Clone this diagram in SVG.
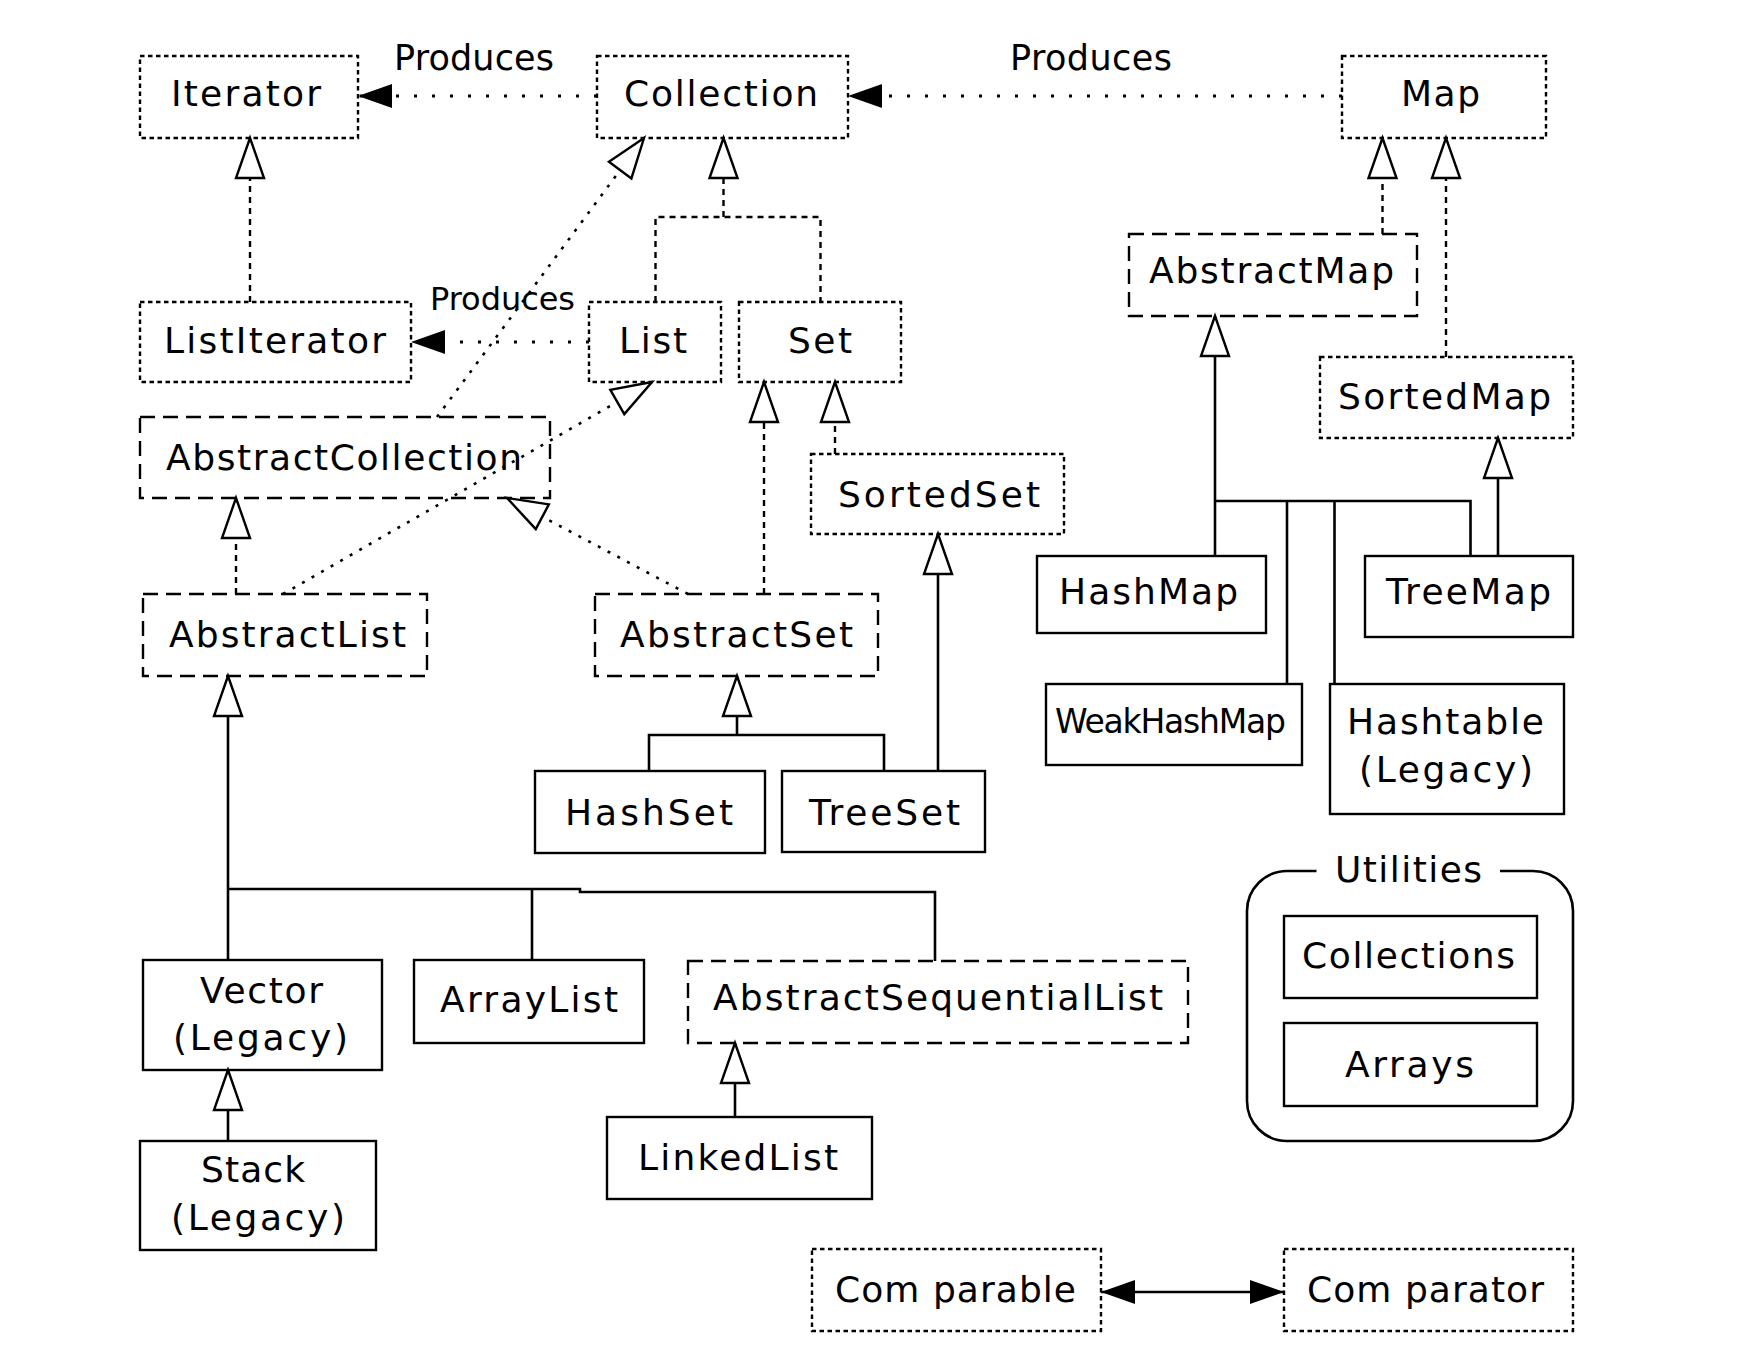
<svg xmlns="http://www.w3.org/2000/svg" width="1744" height="1366" viewBox="0 0 1744 1366">
  <style>
    .bg { fill: #ffffff; }
    .box { fill: none; stroke: #000; stroke-width: 2.4; }
    .dot { stroke-dasharray: 4.5 3.5; }
    .dash { stroke-dasharray: 15 8; }
    .solid { stroke: #000; stroke-width: 2.6; fill: none; }
    .impl { stroke: #000; stroke-width: 2.4; fill: none; stroke-dasharray: 6 5; }
    .impld { stroke: #000; stroke-width: 2.6; fill: none; stroke-dasharray: 3 8; }
    .prod { stroke: #000; stroke-width: 3; fill: none; stroke-dasharray: 3 15; }
    text { font-family: "DejaVu Sans", "Liberation Sans", sans-serif; font-size: 36px; fill: #000; }
    .lbl { font-size: 35px; }
    .sm { font-size: 32px; }
    .wk { font-size: 33px; }
  </style>
  <defs>
    <marker id="hollow" markerUnits="userSpaceOnUse" viewBox="-44 -18 48 36" refX="0" refY="0" markerWidth="48" markerHeight="36" orient="auto" overflow="visible">
      <path d="M0,0 L-40,-14 L-40,14 Z" fill="#fff" stroke="#000" stroke-width="2.4"/>
    </marker>
    <marker id="filled" markerUnits="userSpaceOnUse" viewBox="-38 -14 40 28" refX="0" refY="0" markerWidth="40" markerHeight="28" orient="auto-start-reverse" overflow="visible">
      <path d="M0,0 L-34,-12 L-34,12 Z" fill="#000"/>
    </marker>
  </defs>

  <rect class="bg" x="0" y="0" width="1744" height="1366"/>

  <!-- connectors -->
  <g id="connectors">
    <!-- produces relations -->
    <line class="prod" x1="597" y1="96" x2="358" y2="96" marker-end="url(#filled)"/>
    <line class="prod" x1="1342" y1="96" x2="848" y2="96" marker-end="url(#filled)"/>
    <line class="prod" x1="589" y1="342" x2="411" y2="342" marker-end="url(#filled)"/>
    <line class="solid" x1="1101" y1="1292" x2="1284" y2="1292" marker-start="url(#filled)" marker-end="url(#filled)"/>

    <!-- interface inheritance -->
    <line class="impl" x1="250" y1="302" x2="250" y2="138" marker-end="url(#hollow)"/>
    <path class="impl" d="M655.5,302 V217 H820.5 V302"/>
    <line class="impl" x1="723.5" y1="217" x2="723.5" y2="138" marker-end="url(#hollow)"/>
    <line class="impl" x1="1382.5" y1="234" x2="1382.5" y2="138" marker-end="url(#hollow)"/>
    <line class="impl" x1="1446" y1="357" x2="1446" y2="138" marker-end="url(#hollow)"/>
    <line class="impl" x1="835" y1="454" x2="835" y2="382" marker-end="url(#hollow)"/>
    <line class="impl" x1="764" y1="594" x2="764" y2="382" marker-end="url(#hollow)"/>
    <line class="impl" x1="236" y1="594" x2="236" y2="498" marker-end="url(#hollow)"/>

    <!-- skeletal implementations -->
    <line class="impld" x1="437" y1="417" x2="644" y2="138" marker-end="url(#hollow)"/>
    <line class="impld" x1="283" y1="594" x2="652" y2="382" marker-end="url(#hollow)"/>
    <line class="impld" x1="688" y1="594" x2="507" y2="498" marker-end="url(#hollow)"/>

    <!-- concrete classes -->
    <line class="solid" x1="228" y1="960" x2="228" y2="676" marker-end="url(#hollow)"/>
    <path class="solid" d="M228,889 H580 V892 H935 V961"/>
    <line class="solid" x1="532" y1="889" x2="532" y2="960"/>
    <line class="solid" x1="228" y1="1141" x2="228" y2="1070" marker-end="url(#hollow)"/>
    <line class="solid" x1="735" y1="1117" x2="735" y2="1043" marker-end="url(#hollow)"/>

    <line class="solid" x1="737" y1="735" x2="737" y2="676" marker-end="url(#hollow)"/>
    <path class="solid" d="M649,771 V735 H884 V771"/>
    <line class="solid" x1="938" y1="771" x2="938" y2="534" marker-end="url(#hollow)"/>

    <line class="solid" x1="1215" y1="556" x2="1215" y2="316" marker-end="url(#hollow)"/>
    <path class="solid" d="M1215,501 H1470.5 V556"/>
    <line class="solid" x1="1287" y1="501" x2="1287" y2="684"/>
    <line class="solid" x1="1334.5" y1="501" x2="1334.5" y2="684"/>
    <line class="solid" x1="1498" y1="556" x2="1498" y2="438" marker-end="url(#hollow)"/>
  </g>

  <!-- relation labels -->
  <g id="labels">
    <text class="lbl" x="394" y="70" textLength="160" lengthAdjust="spacing">Produces</text>
    <text class="lbl" x="1010" y="70" textLength="162" lengthAdjust="spacing">Produces</text>
    <text class="sm" x="430" y="310" textLength="145" lengthAdjust="spacing">Produces</text>
  </g>

  <!-- interfaces -->
  <g id="Iterator">
    <rect class="box dot" x="140" y="56" width="218" height="82"/>
    <text x="171" y="106" textLength="150" lengthAdjust="spacing">Iterator</text>
  </g>
  <g id="Collection">
    <rect class="box dot" x="597" y="56" width="251" height="82"/>
    <text x="624" y="106" textLength="194" lengthAdjust="spacing">Collection</text>
  </g>
  <g id="Map">
    <rect class="box dot" x="1342" y="56" width="204" height="82"/>
    <text x="1401" y="106" textLength="79" lengthAdjust="spacing">Map</text>
  </g>
  <g id="ListIterator">
    <rect class="box dot" x="140" y="302" width="271" height="80"/>
    <text x="164" y="353" textLength="222" lengthAdjust="spacing">ListIterator</text>
  </g>
  <g id="List">
    <rect class="box dot" x="589" y="302" width="132" height="80"/>
    <text x="619" y="353" textLength="68" lengthAdjust="spacing">List</text>
  </g>
  <g id="Set">
    <rect class="box dot" x="739" y="302" width="162" height="80"/>
    <text x="788" y="353" textLength="64" lengthAdjust="spacing">Set</text>
  </g>
  <g id="SortedMap">
    <rect class="box dot" x="1320" y="357" width="253" height="81"/>
    <text x="1338" y="409" textLength="213" lengthAdjust="spacing">SortedMap</text>
  </g>
  <g id="SortedSet">
    <rect class="box dot" x="811" y="454" width="253" height="80"/>
    <text x="838" y="507" textLength="202" lengthAdjust="spacing">SortedSet</text>
  </g>
  <g id="Comparable">
    <rect class="box dot" x="812" y="1249" width="289" height="82"/>
    <text x="835" y="1302" textLength="241" lengthAdjust="spacing">Com parable</text>
  </g>
  <g id="Comparator">
    <rect class="box dot" x="1284" y="1249" width="289" height="82"/>
    <text x="1307" y="1302" textLength="237" lengthAdjust="spacing">Com parator</text>
  </g>

  <!-- abstract classes -->
  <g id="AbstractMap">
    <rect class="box dash" x="1129" y="234" width="288" height="82"/>
    <text x="1149" y="283" textLength="245" lengthAdjust="spacing">AbstractMap</text>
  </g>
  <g id="AbstractCollection">
    <rect class="box dash" x="140" y="417" width="410" height="81"/>
    <text x="166" y="470" textLength="356" lengthAdjust="spacing">AbstractCollection</text>
  </g>
  <g id="AbstractList">
    <rect class="box dash" x="143" y="594" width="284" height="82"/>
    <text x="169" y="647" textLength="237" lengthAdjust="spacing">AbstractList</text>
  </g>
  <g id="AbstractSet">
    <rect class="box dash" x="595" y="594" width="283" height="82"/>
    <text x="620" y="647" textLength="233" lengthAdjust="spacing">AbstractSet</text>
  </g>
  <g id="AbstractSequentialList">
    <rect class="box dash" x="688" y="961" width="500" height="82"/>
    <text x="713" y="1010" textLength="450" lengthAdjust="spacing">AbstractSequentialList</text>
  </g>

  <!-- concrete classes -->
  <g id="HashMap">
    <rect class="box" x="1037" y="556" width="229" height="77"/>
    <text x="1059" y="604" textLength="179" lengthAdjust="spacing">HashMap</text>
  </g>
  <g id="TreeMap">
    <rect class="box" x="1365" y="556" width="208" height="81"/>
    <text x="1386" y="604" textLength="165" lengthAdjust="spacing">TreeMap</text>
  </g>
  <g id="WeakHashMap">
    <rect class="box" x="1046" y="684" width="256" height="81"/>
    <text class="wk" x="1055" y="733" textLength="231" lengthAdjust="spacing">WeakHashMap</text>
  </g>
  <g id="Hashtable">
    <rect class="box" x="1330" y="684" width="234" height="130"/>
    <text x="1347" y="734" textLength="197" lengthAdjust="spacing">Hashtable</text>
    <text x="1359" y="782" textLength="174" lengthAdjust="spacing">(Legacy)</text>
  </g>
  <g id="HashSet">
    <rect class="box" x="535" y="771" width="230" height="82"/>
    <text x="565" y="825" textLength="168" lengthAdjust="spacing">HashSet</text>
  </g>
  <g id="TreeSet">
    <rect class="box" x="782" y="771" width="203" height="81"/>
    <text x="809" y="825" textLength="151" lengthAdjust="spacing">TreeSet</text>
  </g>
  <g id="Vector">
    <rect class="box" x="143" y="960" width="239" height="110"/>
    <text x="200" y="1003" textLength="123" lengthAdjust="spacing">Vector</text>
    <text x="173" y="1050" textLength="175" lengthAdjust="spacing">(Legacy)</text>
  </g>
  <g id="ArrayList">
    <rect class="box" x="414" y="960" width="230" height="83"/>
    <text x="440" y="1012" textLength="178" lengthAdjust="spacing">ArrayList</text>
  </g>
  <g id="Stack">
    <rect class="box" x="140" y="1141" width="236" height="109"/>
    <text x="201" y="1182" textLength="104" lengthAdjust="spacing">Stack</text>
    <text x="171" y="1230" textLength="174" lengthAdjust="spacing">(Legacy)</text>
  </g>
  <g id="LinkedList">
    <rect class="box" x="607" y="1117" width="265" height="82"/>
    <text x="638" y="1170" textLength="200" lengthAdjust="spacing">LinkedList</text>
  </g>

  <!-- utility classes -->
  <g id="Utilities">
    <path class="solid" d="M1316.5,871 H1287 A40,40 0 0 0 1247,911 V1101 A40,40 0 0 0 1287,1141 H1533 A40,40 0 0 0 1573,1101 V911 A40,40 0 0 0 1533,871 H1500"/>
    <text x="1335" y="882" textLength="147" lengthAdjust="spacing">Utilities</text>
  </g>
  <g id="Collections">
    <rect class="box" x="1284" y="916" width="253" height="82"/>
    <text x="1302" y="968" textLength="213" lengthAdjust="spacing">Collections</text>
  </g>
  <g id="Arrays">
    <rect class="box" x="1284" y="1023" width="253" height="83"/>
    <text x="1345" y="1077" textLength="129" lengthAdjust="spacing">Arrays</text>
  </g>
</svg>
